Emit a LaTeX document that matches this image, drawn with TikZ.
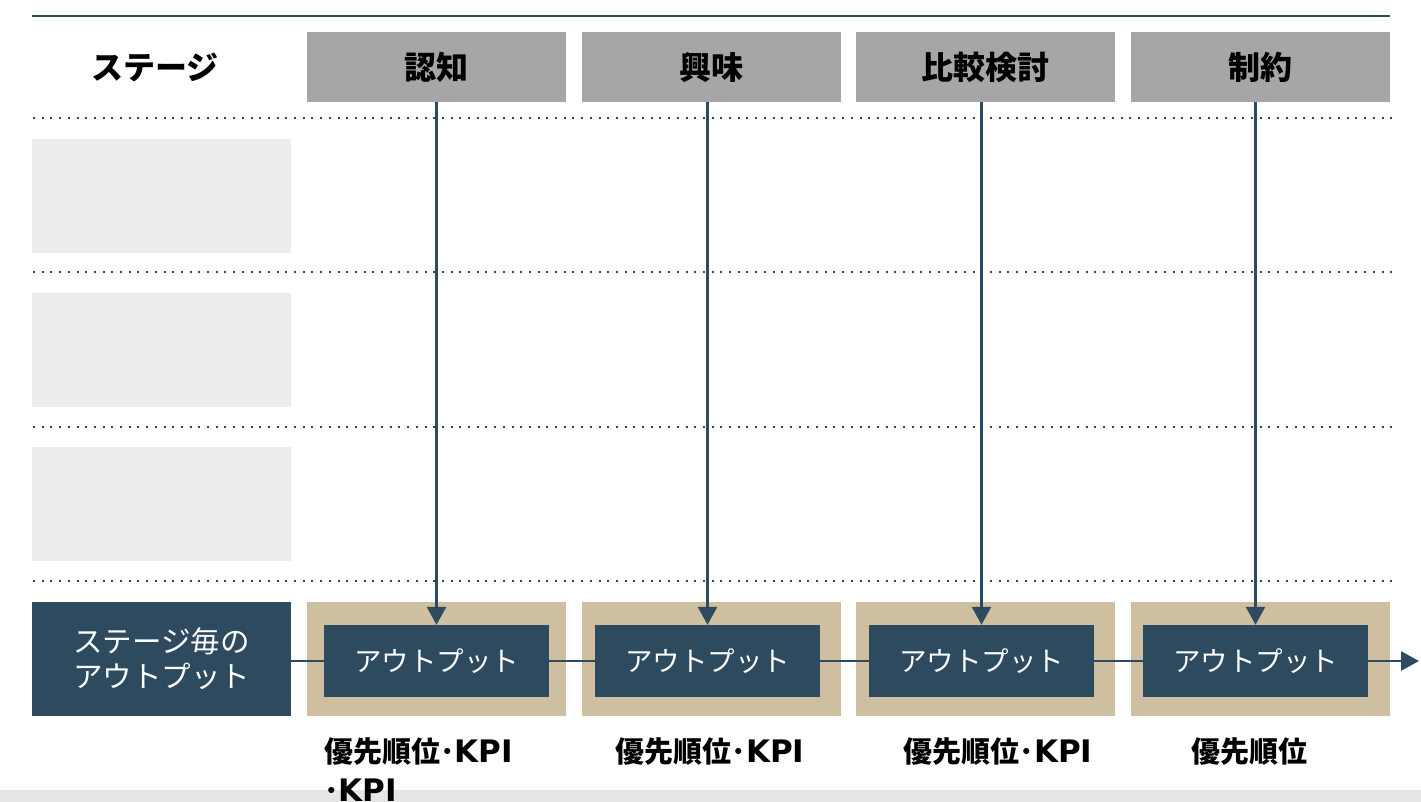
\documentclass[tikz,border=0pt]{standalone}
\usepackage{fontspec}
\setmainfont{Noto Sans CJK JP}
\newfontfamily\latinb{DejaVu Sans}
\usetikzlibrary{arrows.meta}
\definecolor{navy}{HTML}{2D4A5F}
\definecolor{tan}{HTML}{CFBFA1}
\definecolor{hdrgray}{HTML}{A6A6A6}
\definecolor{lightgray}{HTML}{EDEDED}
\definecolor{band}{HTML}{E6E6E6}
\newcommand{\kpi}{{\latinb\bfseries\fontsize{31}{38}\selectfont KPI}}
\begin{document}
\begin{tikzpicture}[x=1pt,y=-1pt,
  hdr/.style={fill=hdrgray, minimum width=259pt, minimum height=70pt, inner sep=0pt, font=\fontsize{32}{36}\selectfont\bfseries},
  side/.style={fill=lightgray, minimum width=259pt, minimum height=114pt, inner sep=0pt},
  tanbox/.style={fill=tan, minimum width=259pt, minimum height=114pt, inner sep=0pt},
  outbox/.style={fill=navy, text=white, minimum width=225pt, minimum height=72pt, inner sep=0pt, font=\fontsize{27.5}{30}\selectfont},
  dotline/.style={navy, line width=2pt, dash pattern=on 2pt off 6.7pt},
  conn/.style={navy, line width=2.5pt},
  arr/.style={conn, -{Triangle[length=18pt,width=19pt]}},
  lbl/.style={font=\fontsize{29}{38}\selectfont\bfseries, inner sep=0pt}
]
\useasboundingbox (0,0) rectangle (1421,802);
\fill[band] (0,790) rectangle (1421,802);
\draw[navy, line width=2.5pt] (32,16) -- (1390,16);
% header row
\node[font=\fontsize{32}{36}\selectfont\bfseries] (stage) at (155,67) {ステージ};
\node[hdr] (h1) at (436.5,67) {認知};
\node[hdr] (h2) at (711.5,67) {興味};
\node[hdr] (h3) at (985.5,67) {比較検討};
\node[hdr] (h4) at (1260.5,67) {制約};
% dotted lines
\foreach \yy in {118,272,427,581} \draw[dotline] (33,\yy) -- (1392,\yy);
% side boxes
\node[side] (s1) at (161.5,196) {};
\node[side] (s2) at (161.5,350) {};
\node[side] (s3) at (161.5,504) {};
% bottom row
\node[fill=navy, text=white, minimum width=259pt, minimum height=114pt, inner sep=0pt, align=center, font=\fontsize{29.5}{35}\selectfont] (out0) at (161.5,659) {ステージ毎の\\アウトプット};
\node[tanbox] (t1) at (436.5,659) {};
\node[tanbox] (t2) at (711.5,659) {};
\node[tanbox] (t3) at (985.5,659) {};
\node[tanbox] (t4) at (1260.5,659) {};
\node[outbox] (o1) at (436.5,661) {アウトプット};
\node[outbox] (o2) at (707.5,661) {アウトプット};
\node[outbox] (o3) at (981.5,661) {アウトプット};
\node[outbox] (o4) at (1255.5,661) {アウトプット};
% vertical arrows
\draw[arr] (o1.north |- h1.south) -- (o1.north);
\draw[arr] (o2.north |- h2.south) -- (o2.north);
\draw[arr] (o3.north |- h3.south) -- (o3.north);
\draw[arr] (o4.north |- h4.south) -- (o4.north);
% horizontal connectors
\coordinate (endp) at (1419,661);
\draw[conn] (out0.east |- o1.west) -- (o1.west);
\draw[conn] (o1.east) -- (o2.west);
\draw[conn] (o2.east) -- (o3.west);
\draw[conn] (o3.east) -- (o4.west);
\draw[arr] (o4.east) -- (endp);
% labels
\node[lbl, anchor=west] (l1) at (324,752) {優先順位･\kpi};
\node[lbl, anchor=west] (l1b) at (324,790) {･\kpi};
\node[lbl] (l2) at (710,752) {優先順位･\kpi};
\node[lbl] (l3) at (998,752) {優先順位･\kpi};
\node[lbl] (l4) at (1249,752) {優先順位};
\end{tikzpicture}
\end{document}
